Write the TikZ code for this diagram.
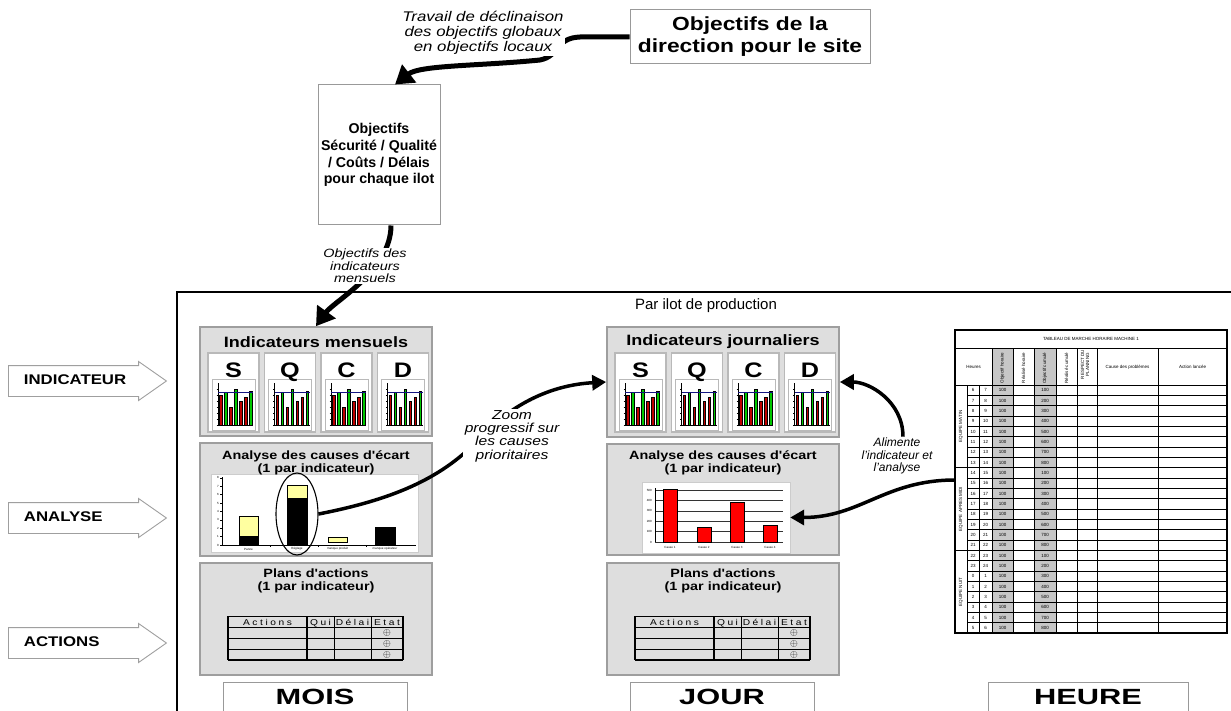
\documentclass[tikz,border=0pt]{standalone}
\usepackage{fontspec}
\setmainfont{Liberation Sans}
\newfontfamily\widefont[FakeStretch=1.2]{Liberation Sans}
\newfontfamily\periodfont[FakeStretch=1.4]{Liberation Sans}
\usetikzlibrary{arrows.meta,shapes.arrows,shapes.geometric,positioning}

\definecolor{panelfill}{gray}{0.87}
\definecolor{panelline}{gray}{0.62}
\definecolor{sheetgray}{gray}{0.78}
\definecolor{barred}{RGB}{190,0,0}
\definecolor{bargreen}{RGB}{0,200,0}
\definecolor{goalblue}{RGB}{20,20,130}
\definecolor{causeyellow}{RGB}{255,255,160}

\begin{document}
\begin{tikzpicture}[x=1pt,y=-1pt,
    box/.style={draw=gray!80, line width=1pt, fill=white},
    note/.style={fill=white, align=center, inner sep=1.5pt},
    panel/.style={draw=panelline, line width=1.6pt, fill=panelfill, minimum width=232pt},
    card/.style={draw=gray!55, line width=1.4pt, fill=white, minimum width=51pt, minimum height=79pt},
    sqcdletter/.style={font=\widefont\bfseries\fontsize{21}{21}\selectfont, anchor=base, inner sep=0pt},
    ptitle/.style={font=\widefont\bfseries\fontsize{15}{16}\selectfont, inner sep=0pt},
    psub/.style={font=\widefont\bfseries\fontsize{12}{12.5}\selectfont, align=center, inner sep=0pt},
    chartbox/.style={draw=gray!40, line width=0.4pt, fill=white},
    period/.style={box, minimum width=184pt, minimum height=30pt, font=\periodfont\bfseries\fontsize{22}{24}\selectfont},
    sidearrow/.style={single arrow, draw=gray!75, line width=0.9pt, fill=white, anchor=west,
      single arrow head extend=4pt, single arrow tip angle=70,
      text width=105pt, text height=10pt, text depth=4pt, inner xsep=15pt, inner ysep=8pt,
      align=left, font=\widefont\bfseries\fontsize{14}{16}\selectfont},
    bigarrow/.style={line width=5pt, -{Triangle[length=18pt,width=22pt]}},
    midarrow/.style={line width=3.5pt, -{Triangle[length=14pt,width=15pt]}},
    tiny/.style={font=\fontsize{3}{3.5}\selectfont, inner sep=0pt},
    cell/.style={font=\fontsize{4.5}{5}\selectfont, inner sep=0pt},
    plancell/.style={font={\widefont\addfontfeatures{LetterSpace=30}\fontsize{8.5}{9}\selectfont}, inner sep=0pt, anchor=base},
    minibars/.pic={
      \draw[gray!55, line width=0.8pt, fill=white] (0,0) rectangle (43,51);
      \draw[line width=0.5pt] (6,4) -- (6,46) -- (41,46);
      \foreach \t in {10,16,...,46} \draw[line width=0.3pt] (4.5,\t) -- (6,\t);
      \foreach \bx/\bt/\bc in {7.5/15.7/barred,12.5/13/bargreen,17.5/28/barred,22.5/9.7/bargreen,27.5/21.7/barred,32.5/18/barred,37.5/12.3/bargreen}
        \filldraw[fill=\bc, draw=black, line width=0.3pt] (\bx,\bt) rectangle (\bx+2.6,46);
      \draw[goalblue, line width=0.7pt] (6,13.7) -- (41,13.7);
    }]
\useasboundingbox (0,0) rectangle (1231,711);

% objectives coming down from the site direction
\node[box, minimum width=240pt, minimum height=54pt, align=center, font=\widefont\bfseries\fontsize{19}{22}\selectfont] (dir) at (750,37) {Objectifs de la\\direction pour le site};
\node[box, minimum width=122pt, minimum height=140pt, align=center, inner sep=1pt, font=\bfseries\fontsize{14.2}{16.8}\selectfont] (sqcd) at (379,155) {Objectifs\\Sécurité / Qualité\\/ Coûts / Délais\\pour chaque ilot};

% frame of the production cell
\draw[line width=1.1pt] (177,715) -- (177,292) -- (1235,292);
\node[font=\fontsize{15}{17}\selectfont] (ilot) at (706,306) {Par ilot de production};

% row headers
\node[sidearrow] (lind) at (8,381) {INDICATEUR};
\node[sidearrow] (lana) at (8,518) {ANALYSE};
\node[sidearrow] (lact) at (8,643) {ACTIONS};

% month column
\node[panel, minimum height=109pt] (mind) at (316,381.5) {};
\node[ptitle] (mindt) at (316,342) {Indicateurs mensuels};
\foreach \k/\l in {0/S,1/Q,2/C,3/D} {
  \node[card] (m\l) at (233.5+56.5*\k,392.5) {};
  \pic at (212+56.5*\k,379) {minibars};
  \node[sqcdletter] (m\l t) at (233.5+56.5*\k,377.5) {\l};
}
\node[panel, minimum height=113pt] (mana) at (316,499.5) {};
\node[chartbox, minimum width=207pt, minimum height=78pt] (mchart) at (314.5,513) {};
\draw[line width=0.5pt] (222,477) -- (222,545) -- (416,545);
\foreach \t in {0,...,8} {
  \draw[line width=0.3pt] (220,545-8.4*\t) -- (222,545-8.4*\t);
  \node[tiny, anchor=east] (my\t) at (219,545-8.4*\t) {\t};
}
\foreach \gx in {270,318,366} \draw[line width=0.3pt] (\gx,545) -- (\gx,547);
\filldraw[fill=black, line width=0.4pt] (239,536) rectangle (258,545);
\filldraw[fill=causeyellow, draw=black, line width=0.4pt] (239,516) rectangle (258,536);
\filldraw[fill=black, line width=0.4pt] (287,498) rectangle (307,545);
\filldraw[fill=causeyellow, draw=black, line width=0.4pt] (287,485) rectangle (307,498);
\filldraw[fill=causeyellow, draw=black, line width=0.4pt] (328,537) rectangle (347,542);
\filldraw[fill=black, line width=0.4pt] (375,527) rectangle (395,545);
\node[tiny] (lpanne) at (248.5,549) {Panne};
\node[tiny] (lregl) at (297,549) {Réglage};
\node[tiny] (lprod) at (337.5,549) {manque produit};
\node[tiny] (lop) at (385,549) {manque opérateur};
\node[draw, ellipse, line width=1.1pt, minimum width=42pt, minimum height=82pt, inner sep=0pt] (focus) at (297,514) {};
\node[psub] (manat) at (316,463) {Analyse des causes d'écart\\(1 par indicateur)};
\node[panel, minimum height=112pt] (mplan) at (316,619) {};
\node[psub] (mplant) at (316,581) {Plans d'actions\\(1 par indicateur)};
\node[period] (mois) at (315,697) {MOIS};

% day column
\node[panel, minimum height=110pt] (jind) at (723,382) {};
\node[ptitle] (jindt) at (723,342) {Indicateurs journaliers};
\foreach \k/\l in {0/S,1/Q,2/C,3/D} {
  \node[card] (j\l) at (640.5+56.5*\k,392.5) {};
  \pic at (619+56.5*\k,379) {minibars};
  \node[sqcdletter] (j\l t) at (640.5+56.5*\k,377.5) {\l};
}
\node[panel, minimum height=111pt] (jana) at (723,499.5) {};
\node[chartbox, minimum width=148pt, minimum height=71pt] (jchart) at (716,517.5) {};
\foreach \v [count=\k from 0] in {0,100,200,300,400,500} {
  \draw[line width=0.6pt, gray!40!black] (655,542-10.4*\k) -- (783,542-10.4*\k);
  \node[tiny, anchor=east] (jy\k) at (652,542-10.4*\k) {\v};
}
\draw[line width=0.5pt] (655,488) -- (655,542);
\foreach \bx/\bt [count=\k] in {663/489,697/527,730/502,763/525} {
  \filldraw[fill=red, draw=black, line width=0.5pt] (\bx,\bt) rectangle (\bx+14,542);
  \node[tiny] (jc\k) at (\bx+7,547.5) {Cause \k};
}
\node[psub] (janat) at (723,463) {Analyse des causes d'écart\\(1 par indicateur)};
\node[panel, minimum height=112pt] (jplan) at (723,619) {};
\node[psub] (jplant) at (723,581) {Plans d'actions\\(1 par indicateur)};
\node[period] (jour) at (722,697) {JOUR};

% action plan sheets
\foreach \dx in {0,407} {
  \draw[line width=0.7pt] (228+\dx,616) -- (403+\dx,616);
  \foreach \yy in {627,638,649} \draw[line width=1pt] (228+\dx,\yy) -- (403+\dx,\yy);
  \draw[line width=1.4pt] (228+\dx,660) -- (403+\dx,660);
  \draw[line width=1.4pt] (228+\dx,616) -- (228+\dx,660);
  \draw[line width=1.8pt] (307+\dx,616) -- (307+\dx,660);
  \draw[line width=0.7pt] (334+\dx,616) -- (334+\dx,660);
  \draw[line width=0.7pt] (371+\dx,616) -- (371+\dx,660);
  \draw[line width=1.4pt] (403+\dx,616) -- (403+\dx,660);
  \node[plancell] (act\dx) at (267.5+\dx,625) {Actions};
  \node[plancell] (qui\dx) at (320.5+\dx,625) {Qui};
  \node[plancell] (del\dx) at (352.5+\dx,625) {Délai};
  \node[plancell] (etat\dx) at (387+\dx,625) {Etat};
  \foreach \yy in {632.5,643.5,654.5}
    \node[inner sep=0pt, font=\fontsize{10}{10}\selectfont] (st\dx-\yy) at (387+\dx,\yy) {$\oplus$};
}

% hourly sheet of the machine
\fill[sheetgray] (992,348) rectangle (1013,633);
\fill[sheetgray] (1034,348) rectangle (1056,633);
\draw[line width=1.2pt] (955,330) rectangle (1227,633);
\draw[line width=1pt] (955,348) -- (1227,348);
\draw[line width=1pt] (955,385) -- (1227,385);
\foreach \x in {992,1013,1034,1056,1077,1097,1158} \draw[line width=1pt] (\x,348) -- (\x,633);
\draw[line width=0.8pt] (967,385) -- (967,633);
\draw[line width=0.8pt] (979,385) -- (979,633);
\foreach \row in {1,...,23} \draw[line width=0.9pt] (967,385+10.333*\row) -- (1227,385+10.333*\row);
\draw[line width=1.2pt] (955,467.7) -- (1227,467.7);
\draw[line width=1.2pt] (955,550.3) -- (1227,550.3);
\node[cell] (sheett) at (1091,339) {TABLEAU DE MARCHE HORAIRE MACHINE 1};
\node[cell] (hrs) at (973.5,367) {Heures};
\node[cell, rotate=90] (oh) at (1002.5,368) {Objectif horaire};
\node[cell, rotate=90] (rh) at (1023.5,368) {Réalisé horaire};
\node[cell, rotate=90] (oc) at (1045,368) {Objectif cumulé};
\node[cell, rotate=90] (rc) at (1066.5,368) {Réalisé cumulé};
\node[cell, rotate=90, align=center, anchor=east] (resp) at (1085,350) {RESPECT DU\\PLANNING};
\node[cell] (cause) at (1127.5,367) {Cause des problèmes};
\node[cell] (act) at (1192.5,367) {Action lancée};
\node[cell, rotate=90] (eqm) at (961,426.3) {EQUIPE MATIN};
\node[cell, rotate=90] (eqa) at (961,509) {EQUIPE APRES MIDI};
\node[cell, rotate=90] (eqn) at (961,592) {EQUIPE NUIT};
\foreach \h [count=\row from 0] in {6,7,8,9,10,11,12,13,14,15,16,17,18,19,20,21,22,23,0,1,2,3,4,5} {
  \pgfmathtruncatemacro\hh{\h+1}
  \pgfmathsetmacro\yy{390.2+10.333*\row}
  \pgfmathtruncatemacro\cum{100*(mod(\row,8)+1)}
  \node[cell] (from\row) at (973,\yy) {\h};
  \node[cell] (to\row) at (985.5,\yy) {\hh};
  \node[cell] (obj\row) at (1002.5,\yy) {100};
  \node[cell] (cum\row) at (1045,\yy) {\cum};
}
\coordinate (feed) at (955,480);
\node[period, minimum width=200pt] (heure) at (1088,697) {HEURE};

% flows between the boxes
\draw[bigarrow] (dir.west) -- (580,37) .. controls (555,38) and (560,56) .. (540,60) .. controls (480,66) and (420,65) .. ([xshift=16pt]sqcd.north);
\draw[bigarrow] ([xshift=12pt]sqcd.south) .. controls +(0,45) and +(18,-25) .. (mind.north);
\draw[midarrow] (focus.east) .. controls (390,500) and (440,480) .. (478,440) .. controls (510,405) and (550,385) .. (jind.west);
\node[align=center, inner sep=1pt, font=\itshape\fontsize{12}{12.5}\selectfont] (alim) at (897,456) {Alimente\\l'indicateur et\\l'analyse};
\draw[midarrow] ([xshift=6pt]alim.north) .. controls +(0,-35) and +(30,0) .. (jind.east);
\draw[midarrow] (feed) .. controls +(-70,0) and +(70,0) .. (jchart.east);

\node[note, font=\widefont\itshape\fontsize{14}{15}\selectfont] (decl) at (483,33) {Travail de déclinaison\\des objectifs globaux\\en objectifs locaux};
\node[note, font=\widefont\itshape\fontsize{12}{12.5}\selectfont] (objm) at (365,266) {Objectifs des\\indicateurs\\mensuels};
\node[note, font=\widefont\itshape\fontsize{13}{13.3}\selectfont] (zoomnote) at (512,436) {Zoom\\progressif sur\\les causes\\prioritaires};
\end{tikzpicture}
\end{document}
